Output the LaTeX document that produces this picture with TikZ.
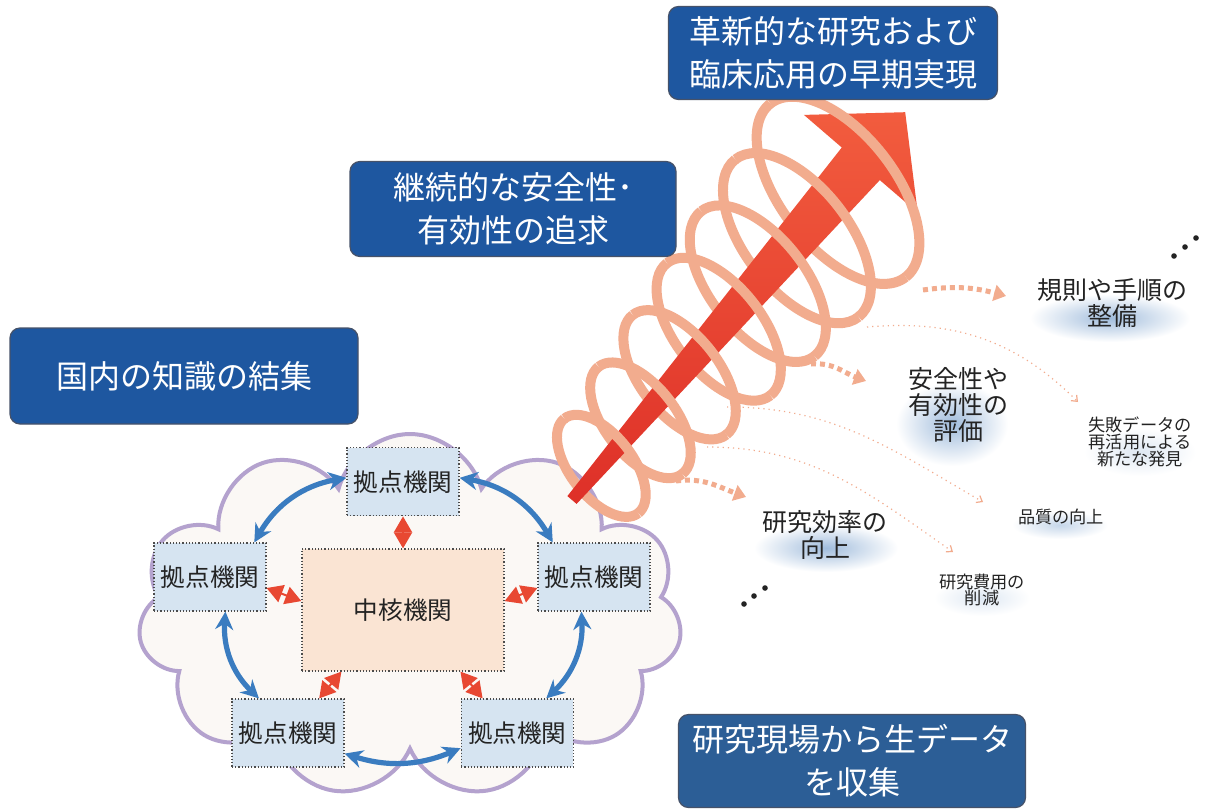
\documentclass[tikz,border=0pt]{standalone}
\usepackage{fontspec}
\newfontfamily\jp{Noto Sans CJK JP}
\usetikzlibrary{arrows.meta,positioning,shapes.symbols,calc}

\definecolor{boxblue}{RGB}{30,87,160}
\definecolor{boxblueb}{RGB}{44,94,150}
\definecolor{boxline}{RGB}{70,82,105}
\definecolor{hubfill}{RGB}{214,228,241}
\definecolor{corefill}{RGB}{250,228,211}
\definecolor{cloudline}{RGB}{180,162,206}
\definecolor{cloudfill}{RGB}{251,248,245}
\definecolor{linkblue}{RGB}{58,124,192}
\definecolor{linkred}{RGB}{232,72,50}
\definecolor{arrowhi}{RGB}{242,92,62}
\definecolor{arrowlo}{RGB}{222,48,40}
\definecolor{coil}{RGB}{242,172,142}
\definecolor{haze}{RGB}{160,188,220}
\definecolor{ink}{RGB}{35,35,35}

\begin{document}
\begin{tikzpicture}[
		x=0.5pt, y=-0.5pt,
		titlebox/.style={rectangle,rounded corners=5pt,draw=boxline,line width=0.6pt,fill=boxblue,text=white,align=center,inner sep=0pt,font=\jp\fontsize{16}{21.5}\selectfont},
		hub/.style={rectangle,draw=gray!60!black,densely dotted,line width=0.6pt,fill=hubfill,minimum width=56pt,minimum height=34pt,inner sep=0pt,text=ink,font=\jp\fontsize{12.3}{14}\selectfont},
		core/.style={hub,fill=corefill,minimum width=101pt,minimum height=61pt},
		link/.style={linkblue,line width=2.6pt,{Stealth[length=9pt,width=9pt]}-{Stealth[length=9pt,width=9pt]}},
		tie/.style={linkred,line width=1pt,{Triangle[length=8pt,width=9pt]}-{Triangle[length=8pt,width=9pt]}},
		coilring/.style={coil,line width=5pt},
		flow/.style={coil,line width=2.5pt,dash pattern=on 2.5pt off 2pt,-{Triangle[length=6pt,width=8pt]}},
		trace/.style={coil,line width=0.6pt,dotted,-{Straight Barb[length=2.5pt,width=4pt]}},
		goal/.style={align=center,text=ink,inner sep=0pt,font=\jp\fontsize{12.5}{13}\selectfont},
		gain/.style={goal,font=\jp\fontsize{8.6}{8.4}\selectfont},
	]

	\fill[white] (0,0) rectangle (1205,809);
	\useasboundingbox (0,0) rectangle (1205,809);

	% soft glow under the outcomes
	\shade[inner color=haze,outer color=white] (1110,318) ellipse[x radius=40pt,y radius=12pt];
	\shade[inner color=haze,outer color=white] (952,424) ellipse[x radius=28pt,y radius=21pt];
	\shade[inner color=haze,outer color=white] (826,548) ellipse[x radius=36pt,y radius=12pt];
	\shade[inner color=haze!60,outer color=white] (1060,525) ellipse[x radius=24pt,y radius=7pt];
	\shade[inner color=haze!35,outer color=white] (1140,452) ellipse[x radius=28pt,y radius=12pt];
	\shade[inner color=haze!35,outer color=white] (982,598) ellipse[x radius=24pt,y radius=9pt];

	% thin dotted leads
	\coordinate (a0) at (867,327);
	\coordinate (a1) at (1078,402);
	\coordinate (b0) at (727,407);
	\coordinate (b1) at (983,502);
	\coordinate (c0) at (707,447);
	\coordinate (c1) at (953,552);
	\draw[trace] (a0) to[out=5,in=135] (a1);
	\draw[trace] (b0) to[out=0,in=150] (b1);
	\draw[trace] (c0) to[out=0,in=145] (c1);

	% network of institutions
	\node[cloud,cloud puffs=11,aspect=1.5,draw=cloudline,fill=cloudfill,line width=2pt,minimum width=272pt,minimum height=182pt,inner sep=0pt] (net) at (410,616) {};

	\node[core] (core) at (403,610) {中核機関};
	\node[hub,above=16pt of core] (hubN) {拠点機関};
	\node[hub] (hubW) at (210,577) {拠点機関};
	\node[hub] (hubE) at (594,577) {拠点機関};
	\node[hub] (hubSW) at (288,733) {拠点機関};
	\node[hub,right=58pt of hubSW] (hubSE) {拠点機関};

	\draw[link] (hubN.176) to[bend right=25] (hubW.38);
	\draw[link] (hubN.4) to[bend left=25] (hubE.140);
	\draw[link] (hubW.-66) to[bend right=25] (hubSW.130);
	\draw[link] (hubE.250) to[bend left=25] (hubSE.50);
	\draw[link] (hubSW.-20) to[bend right=20] (hubSE.195);

	\draw[tie] (hubN) -- (core);
	\draw[tie] (hubW.-11) -- (core.175);
	\draw[tie] (hubE.191) -- (core.5);
	\draw[tie] (hubSW.48) -- (core.225);
	\draw[tie] (hubSE.135) -- (core.-47);

	% coil: back halves, arrow, front halves
	\foreach \t/\r in {45/60,105/68,165/76,225/84,285/92,345/100,408/110}
		\draw[coilring,shift={({572+0.652*\t},{500-0.759*\t})},rotate=38]
			(0pt,{0.5pt*\r}) arc[start angle=90,end angle=270,x radius=0.26pt*\r,y radius=0.5pt*\r];

	\shade[top color=arrowhi,bottom color=arrowlo] (567.4,496.1) -- (841.8,147.5) -- (803.9,114.9) -- (905.2,112.2)
		-- (917.7,212.7) -- (879.8,180.1) -- (576.6,503.9) -- cycle;

	\foreach \t/\r in {45/60,105/68,165/76,225/84,285/92,345/100,408/110}
		\draw[coilring,shift={({572+0.652*\t},{500-0.759*\t})},rotate=38]
			(0pt,{-0.5pt*\r}) arc[start angle=-90,end angle=90,x radius=0.26pt*\r,y radius=0.5pt*\r];

	% dotted arrows leaving the coil
	\coordinate (f1) at (923,290);
	\coordinate (f1e) at (1006,296);
	\coordinate (f2) at (811,364);
	\coordinate (f2e) at (866,381);
	\coordinate (f3) at (676,481);
	\coordinate (f3e) at (746,497);
	\draw[flow] (f1) to[out=8,in=165] (f1e);
	\draw[flow] (f2) to[out=5,in=160] (f2e);
	\draw[flow] (f3) to[out=8,in=160] (f3e);

	\node[goal] (rules) at (1112,303) {規則や手順の\\整備};
	\node[goal] (review) at (958,405) {安全性や\\有効性の\\評価};
	\node[goal] (speed) at (825,535) {研究効率の\\向上};
	\node[gain] (reuse) at (1140,442) {失敗データの\\再活用による\\新たな発見};
	\node[gain] (quality) at (1061,517) {品質の向上};
	\node[gain] (cost) at (982,590) {研究費用の\\削減};

	\foreach \p in {(1174,256),(1185,247),(1196,238),(744,604),(754,596),(765,588)}
		\fill[ink] \p circle[radius=1.4pt];

	\node[titlebox,minimum width=164.5pt,minimum height=46.5pt] (aim) at (833,53) {革新的な研究および\\臨床応用の早期実現};
	\node[titlebox,minimum width=163pt,minimum height=47.5pt] (pursuit) at (513,209) {継続的な安全性･\\有効性の追求};
	\node[titlebox,minimum width=174pt,minimum height=48pt] (pool) at (184,376) {国内の知識の結集};
	\node[titlebox,fill=boxblueb,minimum width=173.5pt,minimum height=46.5pt] (rawdata) at (852,761) {研究現場から生データ\\を収集};

\end{tikzpicture}
\end{document}
